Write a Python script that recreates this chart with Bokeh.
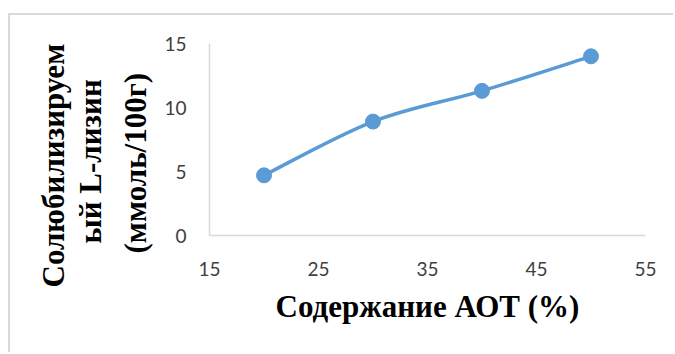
from bokeh.plotting import figure
from bokeh.models import FixedTicker, Title
from bokeh.embed import file_html
from bokeh.resources import INLINE

# data
aot = [20, 30, 40, 50]
lysine = [4.7, 8.9, 11.3, 14.0]
x_ticks = [15, 25, 35, 45, 55]
y_ticks = [0, 5, 10, 15]
y_title_lines = ["Солюбилизируем", "ый L-лизин", "(ммоль/100г)"]
x_title = "Содержание АОТ (%)"

OX, OY = 10, 15          # canvas offset on the page (after css margin + border)
W, H = 665, 339
p = figure(width=W, height=H, output_backend="svg", toolbar_location=None,
           x_range=(15, 55), y_range=(0, 15))
p.styles = {"margin-left": "8px", "margin-top": "13px",
            "border-top": "2px solid #d9d9d9", "border-left": "2px solid #d9d9d9"}
p.min_border_left = 209 - OX
p.min_border_right = W - (645 - OX)
p.min_border_top = 43 - OY
p.min_border_bottom = H - (235 - OY)
p.outline_line_color = None
p.grid.visible = False
p.background_fill_color = "white"
p.border_fill_color = "white"

# smooth curve (Excel-style) built from the data through bezier segments
n = len(aot)
def pt(i):
    i = max(0, min(n - 1, i))
    return aot[i], lysine[i]
x0s, y0s, x1s, y1s, cx0, cy0, cx1, cy1 = [], [], [], [], [], [], [], []
for i in range(n - 1):
    pa, pb, pc, pd = pt(i - 1), pt(i), pt(i + 1), pt(i + 2)
    x0s.append(pb[0]); y0s.append(pb[1]); x1s.append(pc[0]); y1s.append(pc[1])
    cx0.append(pb[0] + (pc[0] - pa[0]) / 6); cy0.append(pb[1] + (pc[1] - pa[1]) / 6)
    cx1.append(pc[0] - (pd[0] - pb[0]) / 6); cy1.append(pc[1] - (pd[1] - pb[1]) / 6)
p.bezier(x0=x0s, y0=y0s, x1=x1s, y1=y1s, cx0=cx0, cy0=cy0, cx1=cx1, cy1=cy1,
         line_color="#5b9bd5", line_width=3.5)
p.scatter(aot, lysine, size=15, fill_color="#5b9bd5", line_color="#5b9bd5")

for ax in (p.xaxis[0], p.yaxis[0]):
    ax.axis_line_color = "#d9d9d9"
    ax.axis_line_width = 1.5
    ax.major_tick_line_color = None
    ax.minor_tick_line_color = None
    ax.major_label_text_font = "Lato"
    ax.major_label_text_font_size = "19px"
    ax.major_label_text_color = "#404040"
    ax.axis_label_text_font = "Liberation Serif"
    ax.axis_label_text_font_style = "bold"
    ax.axis_label_text_font_size = "31px"
    ax.axis_label_text_color = "black"

p.xaxis.ticker = FixedTicker(ticks=x_ticks)
p.yaxis.ticker = FixedTicker(ticks=y_ticks)
p.xaxis.major_label_standoff = 20
p.yaxis.major_label_standoff = 17
p.xaxis.axis_label = x_title
p.xaxis.axis_label_standoff = 10

# y title: three vertical titles on the left, closest line first
offsets = [-18, -8, -52]
for i, (txt, off) in enumerate(zip(reversed(y_title_lines), offsets)):
    p.add_layout(Title(text=txt, align="left", offset=off,
                       standoff=17 if i == 0 else 0, text_line_height=1.0,
                       text_font="Liberation Serif", text_font_style="bold",
                       text_font_size="31px", text_color="black"), "left")

open("out.html", "w").write(file_html(p, INLINE))
